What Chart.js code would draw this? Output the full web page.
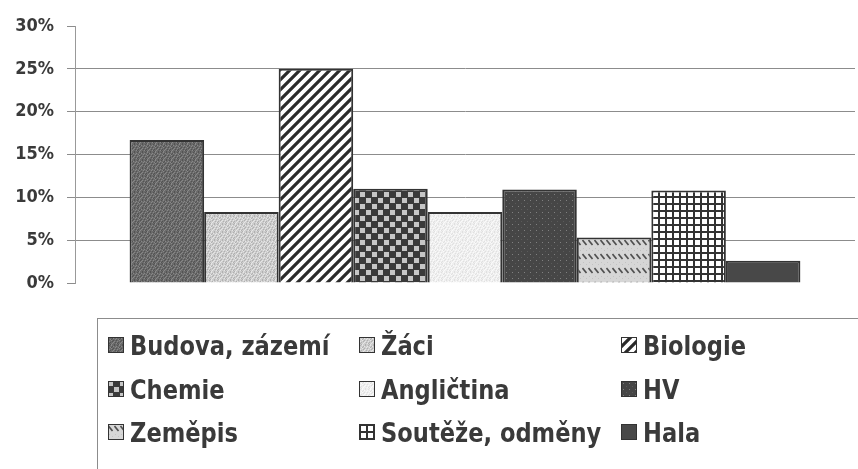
<!DOCTYPE html>
<html><head><meta charset="utf-8">
<script src="https://cdn.jsdelivr.net/npm/chart.js@4"></script>
<style>
html,body{margin:0;padding:0;background:#fff;}
#wrap{position:relative;width:858px;height:469px;overflow:hidden;background:#fff;}
#c{position:absolute;left:0;top:0;}
#legend{position:absolute;left:97px;top:318px;width:800px;height:200px;border:1px solid #8c8c8c;box-sizing:border-box;}
.item{position:absolute;height:30px;display:flex;align-items:center;font-family:'DejaVu Sans Condensed',sans-serif;font-weight:bold;font-size:27px;color:#3a3a3a;white-space:nowrap;line-height:1;}
.item canvas{margin-right:6px;display:block;}
.item span{display:inline-block;transform:scaleX(0.93);transform-origin:0 50%;}
</style></head>
<body><div id="wrap"><canvas id="c" width="858" height="469"></canvas><div id="legend"></div></div>
<script>
const categories = [''];
const seriesLabels = ['Budova, zázemí', 'Žáci', 'Biologie', 'Chemie', 'Angličtina', 'HV', 'Zeměpis', 'Soutěže, odměny', 'Hala'];
const seriesValues = [16.7, 8.3, 25, 11.0, 8.3, 10.9, 5.3, 10.8, 2.6];
const yTickValues = [0, 5, 10, 15, 20, 25, 30];

function tile(w, h, draw) {
  const c = document.createElement('canvas');
  c.width = w; c.height = h;
  const g = c.getContext('2d');
  draw(g, w, h);
  return c;
}
// fixed scattered speckle map (8x8)
const SPECK = [
  '01020010',
  '20001200',
  '00210002',
  '10020100',
  '02001020',
  '00100201',
  '21002000',
  '00120010'
];
function stipple(base, c1, c2) {
  return tile(8, 8, (g) => {
    g.fillStyle = base; g.fillRect(0, 0, 8, 8);
    for (let y = 0; y < 8; y++) for (let x = 0; x < 8; x++) {
      const m = SPECK[y][x];
      if (m === '1') { g.fillStyle = c1; g.fillRect(x, y, 1, 1); }
      if (m === '2') { g.fillStyle = c2; g.fillRect(x, y, 1, 1); }
    }
  });
}
const tiles = [
  stipple('#6a6a6a', '#535353', '#888888'),
  stipple('#cdcdcd', '#b0b0b0', '#e6e6e6'),
  tile(10, 10, (g) => {
    g.fillStyle = '#fff'; g.fillRect(0, 0, 10, 10);
    g.strokeStyle = '#2a2a2a'; g.lineWidth = 3.2; g.lineCap = 'square';
    g.beginPath();
    g.moveTo(-2, 12); g.lineTo(12, -2);
    g.moveTo(-2, 2); g.lineTo(2, -2);
    g.moveTo(8, 12); g.lineTo(12, 8);
    g.stroke();
  }),
  tile(12, 12, (g) => {
    g.fillStyle = '#3a3a3a'; g.fillRect(0, 0, 12, 12);
    g.fillStyle = '#c6c6c6'; g.fillRect(0, 0, 5, 5); g.fillRect(6, 6, 5, 5);
  }),
  stipple('#efefef', '#e0e0e0', '#fafafa'),
  tile(6, 6, (g) => {
    g.fillStyle = '#464646'; g.fillRect(0, 0, 6, 6);
    g.fillStyle = '#808080'; g.fillRect(2, 2, 1, 1);
    g.fillStyle = '#5a5a5a'; g.fillRect(5, 5, 1, 1);
  }),
  tile(6, 14, (g) => {
    g.fillStyle = '#d6d6d6'; g.fillRect(0, 0, 6, 14);
    g.fillStyle = '#c2c2c2'; g.fillRect(1, 10, 1, 1); g.fillRect(4, 12, 1, 1);
    g.strokeStyle = '#4e4e4e'; g.lineWidth = 1.6;
    g.beginPath(); g.moveTo(0.5, 2); g.lineTo(4.5, 7); g.stroke();
  }),
  tile(7, 7, (g) => {
    g.fillStyle = '#fff'; g.fillRect(0, 0, 7, 7);
    g.fillStyle = '#333'; g.fillRect(0, 0, 7, 2); g.fillRect(0, 0, 2, 7);
  }),
  tile(4, 4, (g) => {
    g.fillStyle = '#484848'; g.fillRect(0, 0, 4, 4);
  })
];

const canvas = document.getElementById('c');
const ctx = canvas.getContext('2d');
const patterns = tiles.map(t => ctx.createPattern(t, 'repeat'));

const datasets = seriesLabels.map((label, i) => ({
  label: label,
  data: [seriesValues[i]],
  backgroundColor: patterns[i],
  borderColor: '#333',
  borderWidth: 2,
  categoryPercentage: 0.86,
  barPercentage: 1
}));

new Chart(ctx, {
  type: 'bar',
  data: { labels: categories, datasets: datasets },
  options: {
    responsive: false,
    animation: false,
    devicePixelRatio: 1,
    layout: { padding: { left: 0, right: 3, top: 26, bottom: 186 } },
    plugins: { legend: { display: false }, tooltip: { enabled: false } },
    scales: {
      x: { display: false },
      y: {
        min: 0, max: 30,
        afterFit(s) { s.width = 75; },
        afterBuildTicks(s) { s.ticks = yTickValues.map(v => ({ value: v })); },
        ticks: {
          callback: v => v + '%',
          font: { family: "'DejaVu Sans Condensed', sans-serif", weight: 'bold', size: 18 },
          color: '#3a3a3a',
          padding: 13
        },
        grid: {
          color: (c) => (c.tick && (c.tick.value === 0 || c.tick.value === 30)) ? 'rgba(0,0,0,0)' : '#8c8c8c',
          tickColor: '#8c8c8c',
          tickLength: 8,
          lineWidth: 1
        },
        border: { display: true, color: '#999', width: 1 }
      }
    }
  }
});

// HTML legend (3 columns)
const legend = document.getElementById('legend');
const colX = [10, 261, 523];
const rowY = [11, 55, 98];
seriesLabels.forEach((label, i) => {
  const item = document.createElement('div');
  item.className = 'item';
  item.style.left = colX[i % 3] + 'px';
  item.style.top = rowY[Math.floor(i / 3)] + 'px';
  const sw = document.createElement('canvas');
  sw.width = 16; sw.height = 16;
  const g = sw.getContext('2d');
  g.fillStyle = g.createPattern(tiles[i], 'repeat');
  g.fillRect(0, 0, 16, 16);
  g.strokeStyle = '#333'; g.lineWidth = 1;
  g.strokeRect(0.5, 0.5, 15, 15);
  const span = document.createElement('span');
  span.textContent = label;
  item.appendChild(sw);
  item.appendChild(span);
  legend.appendChild(item);
});
</script>
</body></html>
